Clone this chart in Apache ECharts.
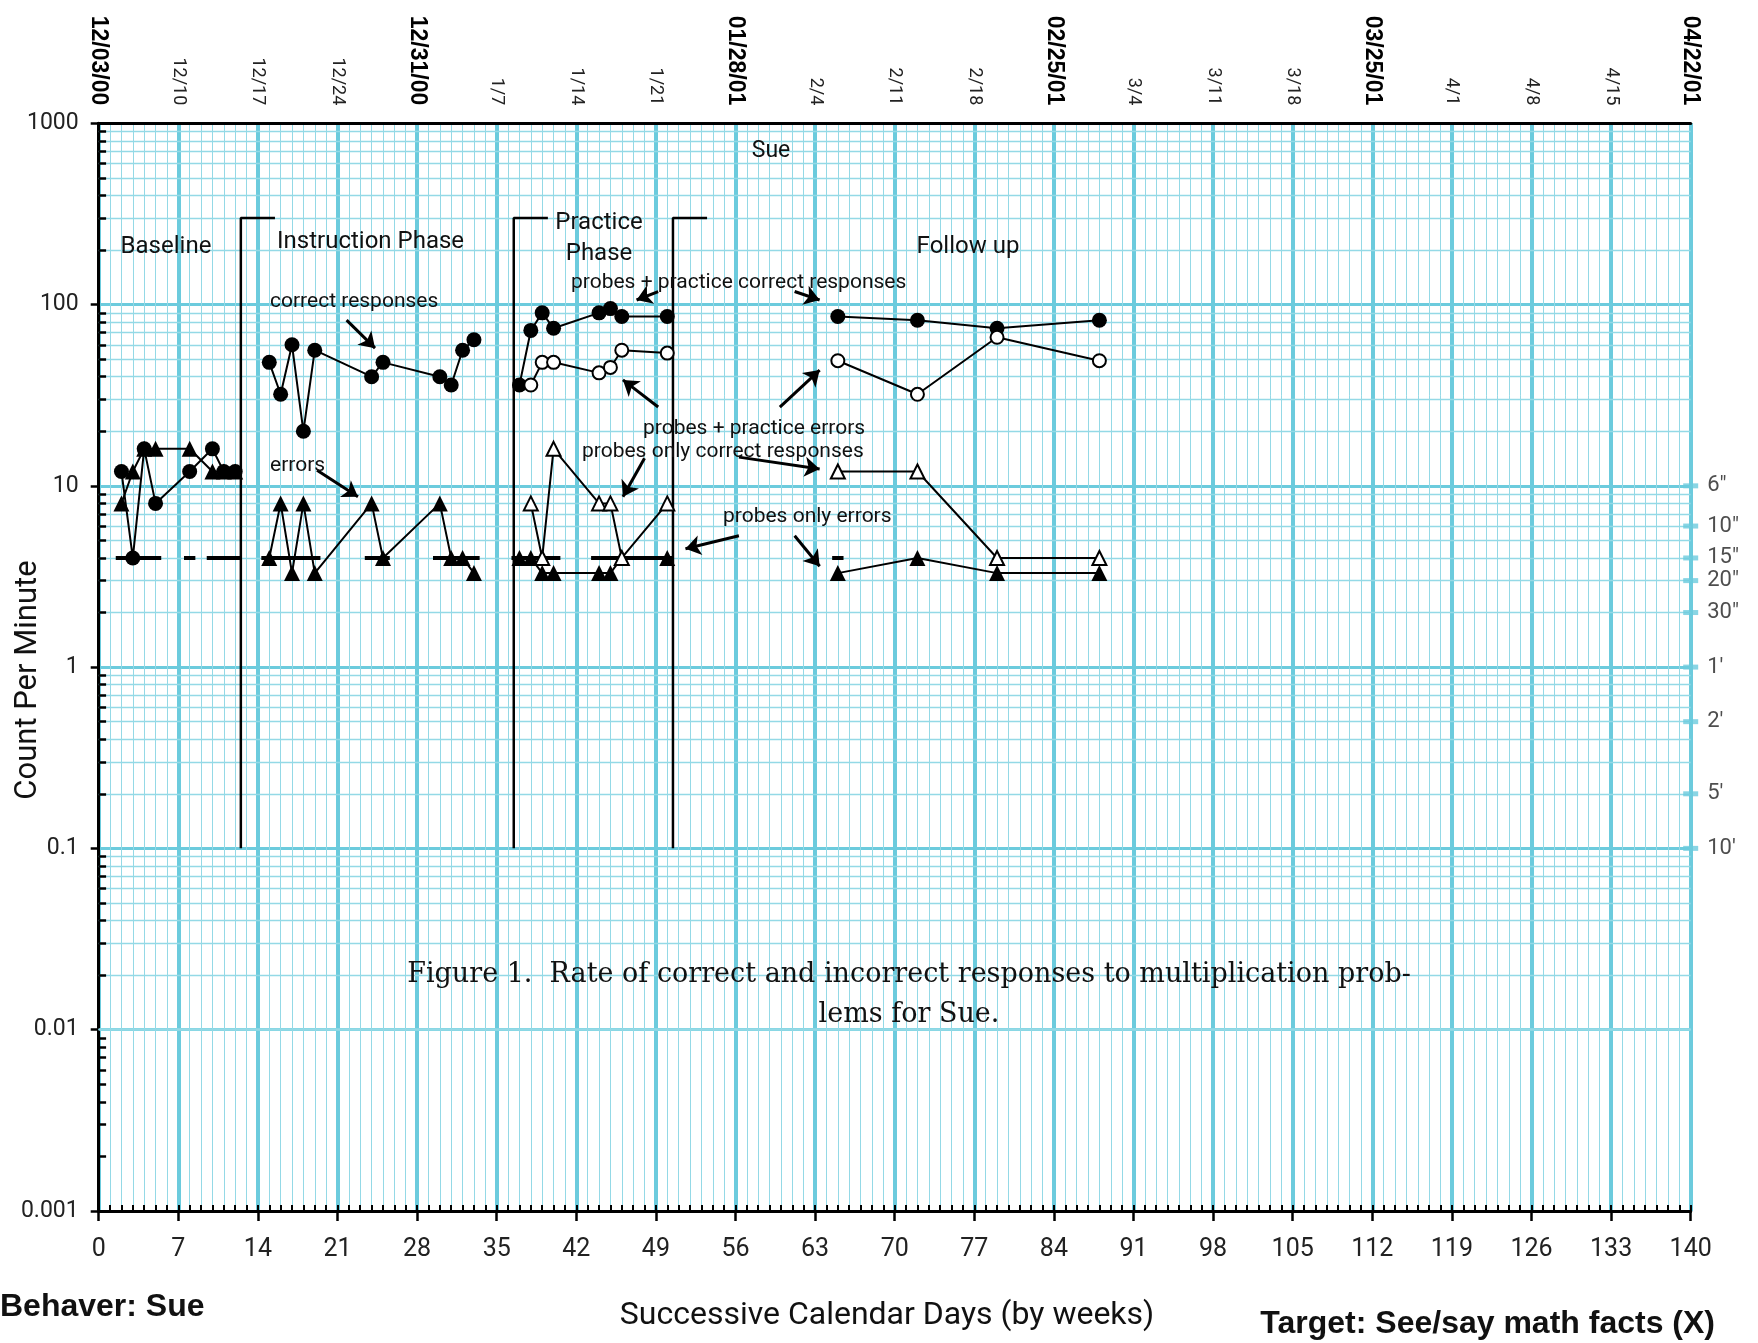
<!DOCTYPE html>
<html><head><meta charset="utf-8">
<script src="https://cdn.jsdelivr.net/npm/echarts@6/dist/echarts.min.js"></script>
<style>html,body{margin:0;padding:0;background:#fff}#c{width:1758px;height:1343px}</style>
</head><body><div id="c"></div>
<script>
// ---------- data ----------
const dateLabels = ['12/03/00','12/10','12/17','12/24','12/31/00','1/7','1/14','1/21','01/28/01','2/4','2/11','2/18','02/25/01','3/4','3/11','3/18','03/25/01','4/1','4/8','4/15','04/22/01'];
const countLabels = ['0.001','0.01','0.1','1','10','100','1000'];
const countTimeValues = [10,6,4,3,2,1,0.5,0.2,0.1];
const countTimeLabels = ['6"','10"','15"','20"','30"',"1'","2'","5'","10'"];

const baselineDays = [2,3,4,5,8,10,11,12];
const baselineCorrect = [12,4,16,8,12,16,12,12];
const baselineErrors = [8,12,16,16,16,12,12,12];

const instructionDays = [15,16,17,18,19,24,25,30,31,32,33];
const instructionCorrect = [48,32,60,20,56,40,48,40,36,56,64];
const instructionErrors = [4,8,3.3,8,3.3,8,4,8,4,4,3.3];

const practiceDays = [37,38,39,40,44,45,46,50];
const practiceCorrect = [36,72,90,74,90,95,86,86];
const practiceErrors = [4,4,3.3,3.3,3.3,3.3,4,4];
const probeDays = [38,39,40,44,45,46,50];
const probeCircles = [36,48,48,42,45,56,54];
const probeTriangles = [8,4,16,8,8,4,8];

const followDays = [65,72,79,88];
const followCorrect = [86,82,74,82];
const followCircles = [49,32,66,49];
const followTriangles = [12,12,4,4];
const followErrors = [3.3,4,3.3,3.3];

const phaseChangeDays = [12.5,36.5,50.5];
const phaseLineTop = 300, phaseLineBottom = 0.1, phaseBracketDays = 3;
const recordFloor = 4;
const floorSegments = [[1.5,5.5],[7.5,8.5],[9.5,12.5],[14.3,19.5],[23.4,25.6],[29.4,33.5],[36.3,40.6],[43.3,50.5],[64.5,65.5]];

const arrows = [
  [[21.8,82],[24.3,57.5]],
  [[19.2,12.2],[22.8,8.7]],
  [[49.2,118],[47.3,106]],
  [[61.2,118],[63.4,106]],
  [[49.2,27.2],[46.1,38.4]],
  [[59.9,27.2],[63.4,43.5]],
  [[48.0,14.2],[46.1,8.7]],
  [[56.3,14.4],[63.4,12.4]],
  [[56.3,5.3],[51.6,4.5]],
  [[61.2,5.3],[63.4,3.6]]
];

// ---------- styling ----------
const CY = '#6ccbdd', CYL = '#94d9e6';
const NUMF = "'Roboto','Liberation Sans',sans-serif";
const ANF = "'Roboto','Liberation Sans',sans-serif";

const minorVals = [];
for (let k = -3; k <= 2; k++) for (let m = 2; m <= 9; m++) minorVals.push(+(m * Math.pow(10, k)).toPrecision(3));

function pts(days, vals) { return days.map((d, i) => [d, vals[i]]); }
const styles = {
  dot: { symbol: 'circle', symbolSize: 15, itemStyle: { color: '#000' } },
  ring: { symbol: 'circle', symbolSize: 13, itemStyle: { color: '#fff', borderColor: '#000', borderWidth: 2 } },
  tri: { symbol: 'triangle', symbolSize: 16, itemStyle: { color: '#000' } },
  otri: { symbol: 'triangle', symbolSize: 14, itemStyle: { color: '#fff', borderColor: '#000', borderWidth: 2 } }
};
function ser(name, days, vals, kind) {
  return Object.assign({
    type: 'line', name, data: pts(days, vals), z: 5, showAllSymbol: true,
    lineStyle: { color: '#000', width: 2 }, emphasis: { disabled: true }, silent: true
  }, styles[kind]);
}

const phaseData = [];
phaseChangeDays.forEach(d => { phaseData.push([d, phaseLineBottom], [d, phaseLineTop], [d + phaseBracketDays, phaseLineTop], [d + phaseBracketDays, '-']); });
const floorData = [];
floorSegments.forEach(s => { floorData.push([s[0], recordFloor], [s[1], recordFloor], [s[1], '-']); });

const chart = echarts.init(document.getElementById('c'), null, { renderer: 'canvas' });
const grid = { left: 98.7, right: 67.3, top: 123.3, bottom: 132.1 };

const txt = (text, x, y, size, o = {}) => ({
  type: 'text', z: 100, x, y, rotation: o.rot || 0,
  style: { text, fontSize: size, fontFamily: o.font || ANF, fontWeight: o.bold ? 'bold' : 'normal', fill: '#111', align: o.align || 'left', verticalAlign: 'middle' }
});

chart.setOption({
  animation: false,
  grid,
  xAxis: [
    { type: 'value', min: 0, max: 140, interval: 7, position: 'bottom',
      axisLine: { lineStyle: { color: '#000', width: 3 } },
      axisTick: { length: 10, lineStyle: { color: '#000', width: 2.5 } },
      axisLabel: { fontSize: 25, fontFamily: NUMF, color: '#222', margin: 26 },
      splitLine: { show: true, lineStyle: { color: CY, width: 4 } },
      minorTick: { show: false, splitNumber: 7 },
      minorSplitLine: { show: true, lineStyle: { color: CYL, width: 1 } } },
    { type: 'value', min: 0, max: 140, interval: 1, position: 'bottom',
      axisLine: { show: false }, axisLabel: { show: false }, splitLine: { show: false },
      axisTick: { inside: true, length: 6, lineStyle: { color: '#000', width: 2 } } },
    { type: 'value', min: 0, max: 140, interval: 7, position: 'top',
      axisLine: { lineStyle: { color: '#000', width: 3 } }, axisTick: { show: false }, splitLine: { show: false },
      axisLabel: { rotate: 90, margin: 18,
        formatter: v => { const i = Math.round(v / 7); return (i % 4 === 0 ? '{b|' : '{r|') + dateLabels[i] + '}'; },
        rich: { b: { fontSize: 23, fontWeight: 'bold', fontFamily: "'Liberation Sans',sans-serif", color: '#000' },
                r: { fontSize: 18, fontFamily: NUMF, color: '#222' } } } }
  ],
  yAxis: [
    { type: 'log', logBase: 10, min: 0.001, max: 1000, interval: 1, position: 'left',
      axisLine: { lineStyle: { color: '#000', width: 3 } },
      axisTick: { length: 8, lineStyle: { color: '#000', width: 2.5 } },
      axisLabel: { fontSize: 23, fontFamily: NUMF, color: '#222', margin: 20,
        formatter: v => countLabels[Math.round(Math.log10(v)) + 3] },
      splitLine: { show: true, lineStyle: { color: CY, width: 3 } } },
    { type: 'log', logBase: 10, min: 0.001, max: 1000, interval: 1, position: 'right',
      axisLine: { show: true, lineStyle: { color: '#000', width: 2.5 } }, axisTick: { show: false },
      axisLabel: { show: false }, splitLine: { show: false } }
  ],
  series: [
    { type: 'line', name: 'gridMinor', data: [[0, 1]], z: 1, showSymbol: false, silent: true,
      lineStyle: { opacity: 0 },
      markLine: { z: 1, silent: true, symbol: 'none', label: { show: false }, animation: false,
        lineStyle: { color: CYL, width: 1.3, type: 'solid' },
        data: minorVals.map(v => ({ yAxis: v })) } },
    { type: 'line', name: 'innerTicks', data: [[0, 1]], z: 6, showSymbol: false, silent: true,
      lineStyle: { opacity: 0 },
      markLine: { z: 6, silent: true, symbol: 'none', label: { show: false }, animation: false,
        lineStyle: { color: '#000', width: 2.5, type: 'solid' },
        data: minorVals.map(v => [{ coord: [0, v] }, { coord: [0.65, v] }]) } },
    { type: 'line', name: 'phase', data: phaseData, z: 4, showSymbol: false, silent: true,
      lineStyle: { color: '#000', width: 2.5 } },
    { type: 'line', name: 'floor', data: floorData, z: 4, showSymbol: false, silent: true,
      lineStyle: { color: '#000', width: 4 } },
    ser('baseline correct', baselineDays, baselineCorrect, 'dot'),
    ser('baseline errors', baselineDays, baselineErrors, 'tri'),
    ser('instruction correct', instructionDays, instructionCorrect, 'dot'),
    ser('instruction errors', instructionDays, instructionErrors, 'tri'),
    ser('practice correct', practiceDays, practiceCorrect, 'dot'),
    ser('practice errors', practiceDays, practiceErrors, 'tri'),
    ser('probe circles', probeDays, probeCircles, 'ring'),
    ser('probe triangles', probeDays, probeTriangles, 'otri'),
    ser('follow correct', followDays, followCorrect, 'dot'),
    ser('follow circles', followDays, followCircles, 'ring'),
    ser('follow triangles', followDays, followTriangles, 'otri'),
    ser('follow errors', followDays, followErrors, 'tri'),
    { type: 'line', name: 'arrows', data: [[0, 1]], z: 7, showSymbol: false, silent: true,
      lineStyle: { opacity: 0 },
      markLine: { z: 7, silent: true, symbol: ['none', 'arrow'], symbolSize: 15, label: { show: false }, animation: false,
        lineStyle: { color: '#000', width: 3, type: 'solid' },
        data: arrows.map(a => [{ coord: a[0] }, { coord: a[1] }]) } },
    { type: 'scatter', name: 'counting times', data: countTimeValues.map(v => [140, v]), z: 8, clip: false, silent: true,
      symbol: 'rect', symbolSize: [15, 5], itemStyle: { color: CY },
      label: { show: true, position: 'right', distance: 9, fontSize: 22, fontFamily: NUMF, color: '#222',
        formatter: p => countTimeLabels[p.dataIndex] } }
  ],
  graphic: [
    txt('Sue', 771, 151, 23, { align: 'center' }),
    txt('Baseline', 166, 247, 24, { align: 'center' }),
    txt('Instruction Phase', 277, 242, 24),
    txt('Practice', 599, 223, 24, { align: 'center' }),
    txt('Phase', 599, 254, 24, { align: 'center' }),
    txt('Follow up', 968, 247, 24, { align: 'center' }),
    txt('probes + practice correct responses', 571, 283, 21),
    txt('correct responses', 270, 302, 21),
    txt('errors', 270, 466, 21),
    txt('probes + practice errors', 643, 429, 21),
    txt('probes only correct responses', 582, 452, 21),
    txt('probes only errors', 723, 517, 21),
    txt('Figure 1.  Rate of correct and incorrect responses to multiplication prob-', 909, 975, 27, { align: 'center', font: "'DejaVu Serif',serif" }),
    txt('lems for Sue.', 909, 1015, 27, { align: 'center', font: "'DejaVu Serif',serif" }),
    txt('Count Per Minute', 28, 680, 31, { align: 'center', rot: Math.PI / 2, font: NUMF }),
    txt('Behaver: Sue', 0, 1307, 32, { bold: true, font: "'Liberation Sans',sans-serif" }),
    txt('Successive Calendar Days (by weeks)', 887, 1316, 32, { align: 'center', font: NUMF }),
    txt('Target: See/say math facts (X)', 1715, 1324, 32, { align: 'right', bold: true, font: "'Liberation Sans',sans-serif" })
  ]
});
</script>
</body></html>
